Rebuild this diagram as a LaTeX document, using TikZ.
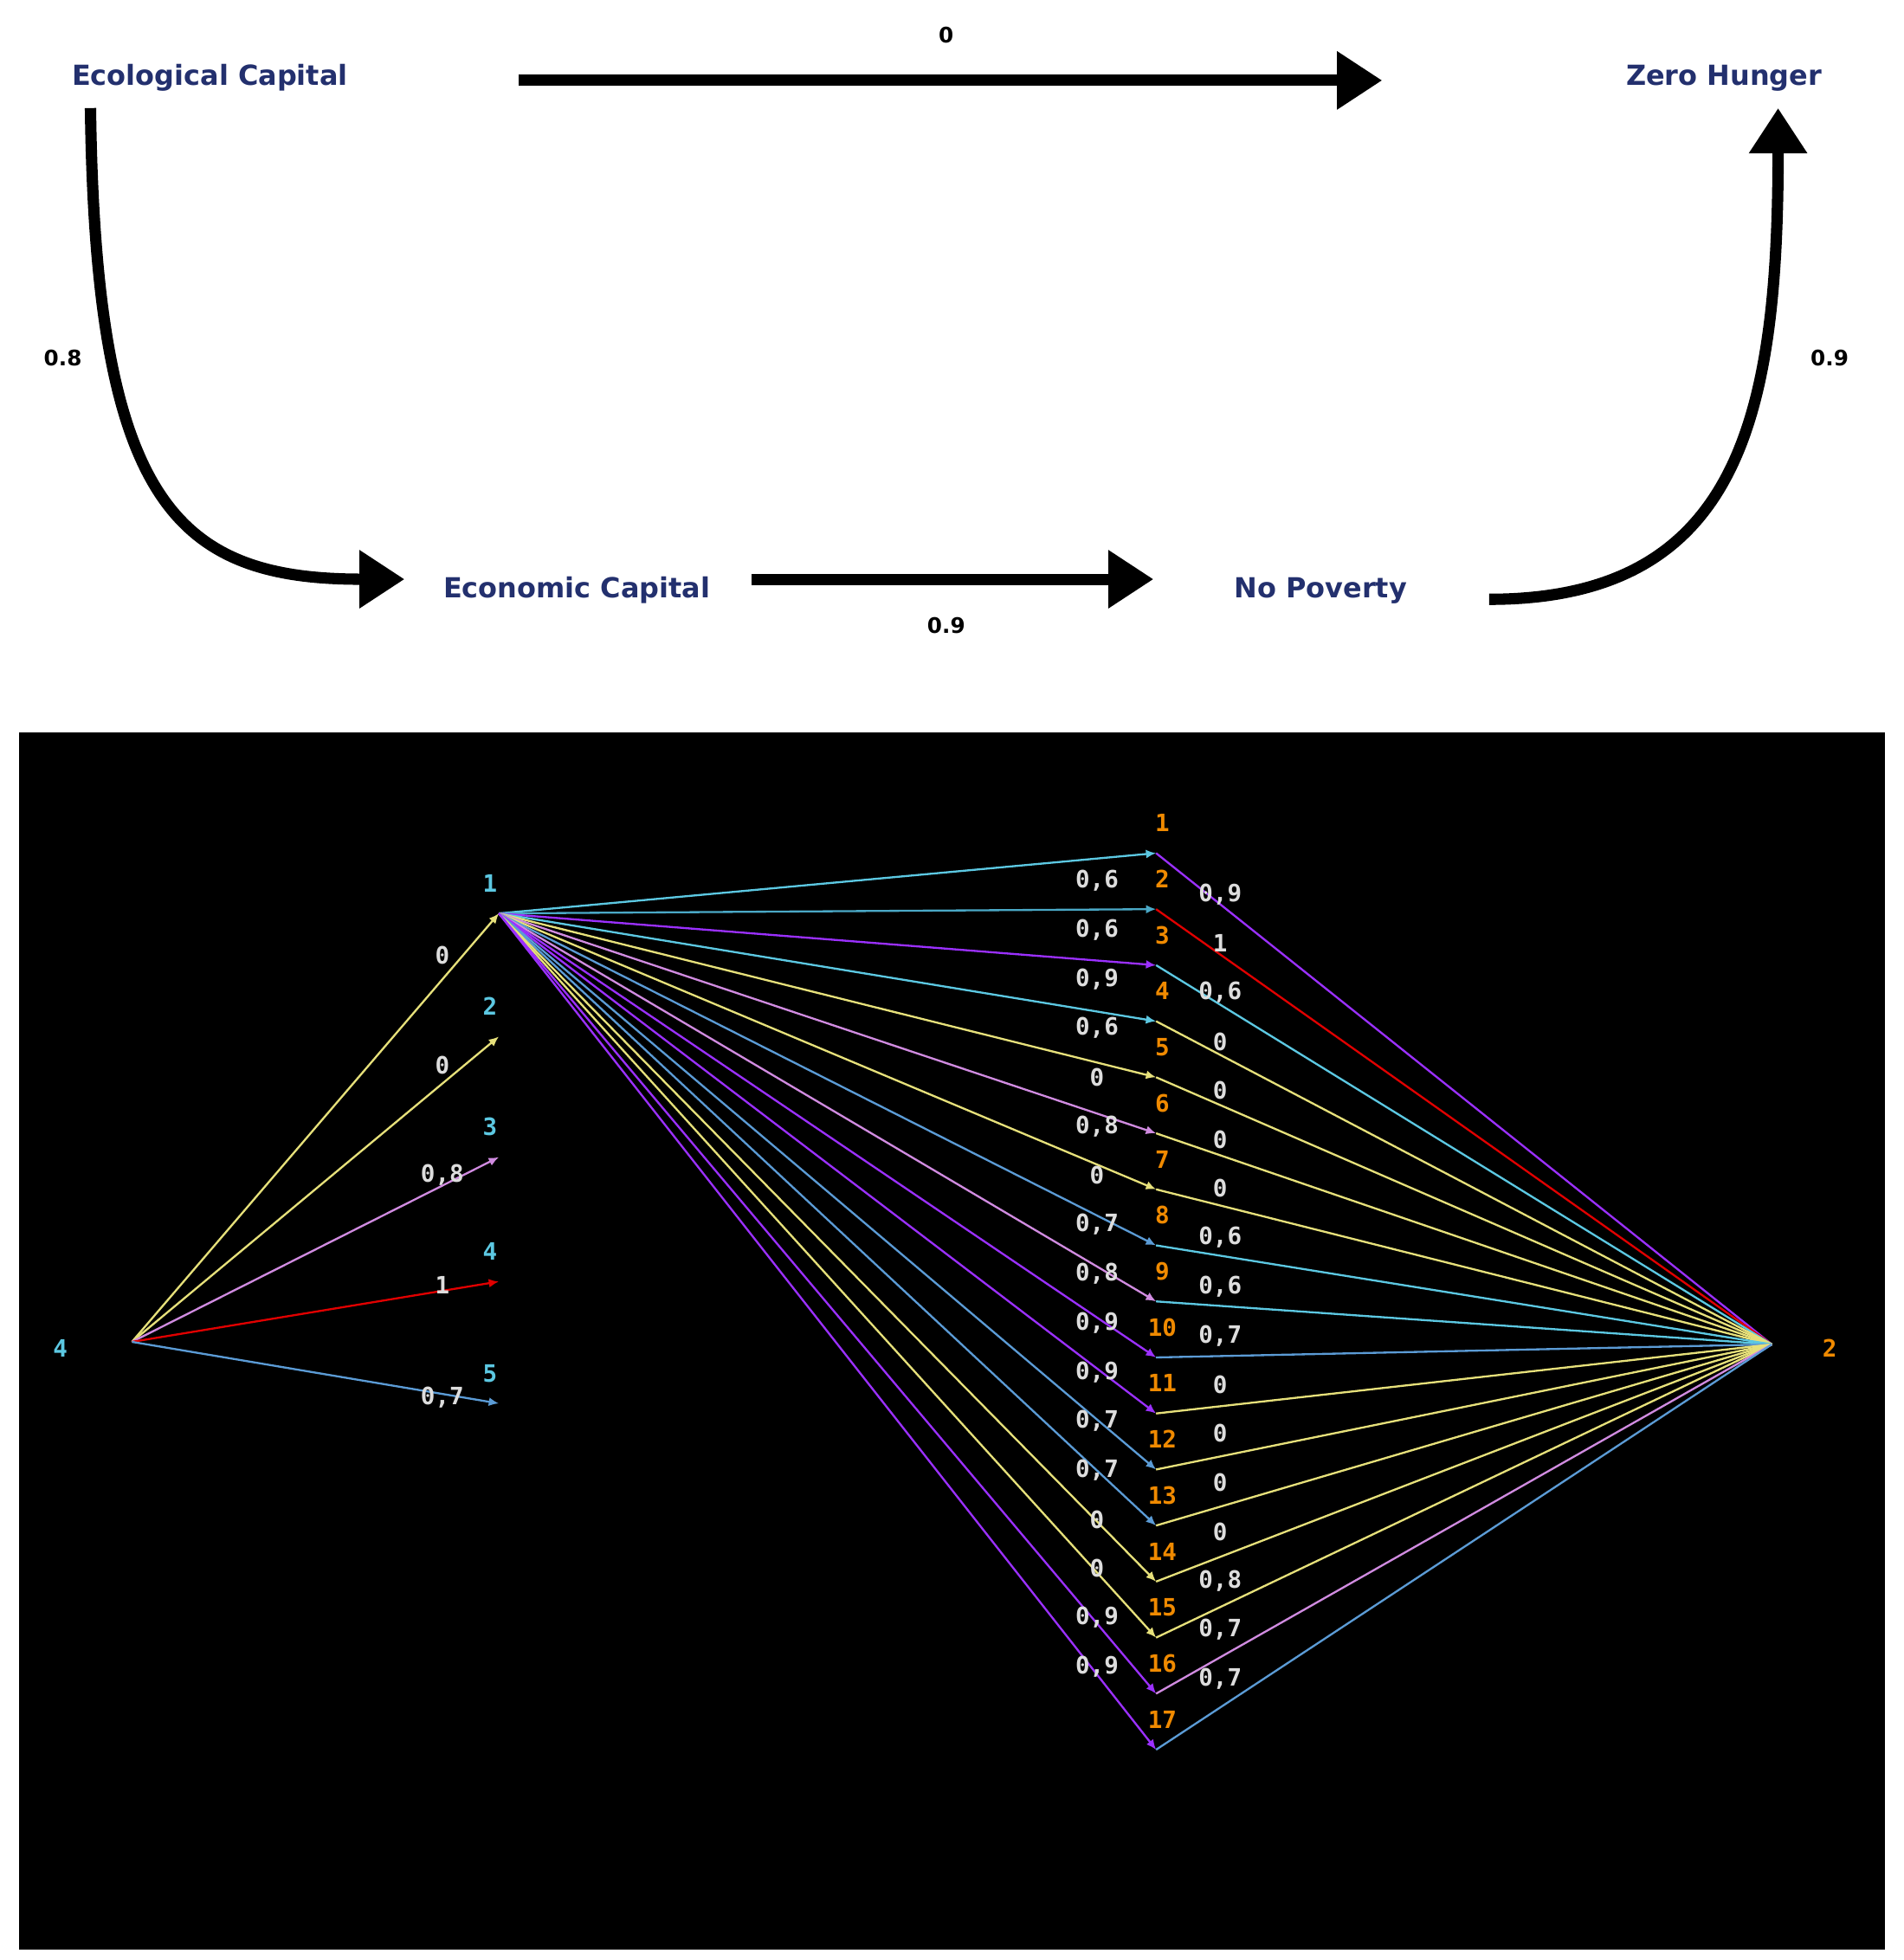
\documentclass[tikz,border=0pt]{standalone}
\usepackage{fontspec}
\setmainfont{DejaVu Sans}
\newfontfamily\monof{DejaVu Sans Mono}
\usetikzlibrary{arrows.meta}
\definecolor{navy}{HTML}{23306E}
\definecolor{cy}{HTML}{5CC8E2}
\definecolor{te}{HTML}{4AA8C6}
\definecolor{pu}{HTML}{9B30FF}
\definecolor{ye}{HTML}{E6E07A}
\definecolor{or}{HTML}{D08BE0}
\definecolor{sb}{HTML}{5B9BD5}
\definecolor{rd}{HTML}{E00000}
\definecolor{og}{HTML}{F08A00}
\definecolor{wl}{HTML}{DDDDDD}
\tikzset{
 captext/.style={text=navy,font=\bfseries\fontsize{22}{24}\selectfont},
 wlab/.style={font=\bfseries\fontsize{17}{19}\selectfont},
 big/.style={line width=9pt,-{Triangle[length=36pt,width=44pt]}},
 small/.style={line width=1.6pt,-{Latex[length=8pt,width=7pt]}},
 dlab/.style={text=wl,font=\monof\bfseries\fontsize{19}{21}\selectfont},
 olab/.style={text=og,font=\monof\bfseries\fontsize{19}{21}\selectfont},
 clab/.style={text=cy,font=\monof\bfseries\fontsize{19}{21}\selectfont},
}
\begin{document}
\begin{tikzpicture}[x=1pt,y=-1pt]
\useasboundingbox (0,0) rectangle (1515,1560);
\fill[white] (0,0) rectangle (1515,1560);
% top
\node[captext] (eco) at (167,62) {Ecological Capital};
\node[captext] (zh) at (1372,62) {Zero Hunger};
\node[captext] (ec) at (459,470) {Economic Capital};
\node[captext] (np) at (1051,470) {No Poverty};
\coordinate (a1) at (413,64); \coordinate (a2) at (1100,64);
\draw[big] (a1) -- (a2);
\node[wlab] (l0) at (753,28) {0};
\coordinate (b1) at (72,86); \coordinate (b2) at (322,461);
\draw[big] (b1) .. controls (76,400) and (140,461) .. (b2);
\node[wlab] (l08) at (50,285) {0.8};
\coordinate (c1) at (598,461); \coordinate (c2) at (918,461);
\draw[big] (c1) -- (c2);
\node[wlab] (l09a) at (753,498) {0.9};
\coordinate (d1) at (1185,477); \coordinate (d2) at (1415,86);
\draw[big] (d1) .. controls (1385,477) and (1415,330) .. (d2);
\node[wlab] (l09b) at (1456,285) {0.9};
% bottom
\fill[black] (15,583) rectangle (1500,1552);
\coordinate (L) at (105,1068);
\node[clab] (L4) at (48,1073) {4};
\coordinate (R) at (1410,1070);
\node[olab] (R2) at (1456,1073) {2};
\foreach \k/\yy/\c/\lb/\ly in {1/727/ye/0/760,2/825/ye/0/848,3/921/or/{0,8}/935,4/1020/rd/1/1023,5/1117/sb/{0,7}/1112}{
 \coordinate (s\k) at (397,\yy);
 \draw[small,\c] (L) -- (s\k);
 \node[clab] (sl\k) at (390,\yy-24) {\k};
 \node[dlab] (sw\k) at (352,\ly) {\lb};
}
\foreach \k/\ci/\co/\li/\lo in {1/cy/pu/{0,6}/{0,9},2/te/rd/{0,6}/1,3/pu/cy/{0,9}/{0,6},4/cy/ye/{0,6}/0,5/ye/ye/0/0,6/or/ye/{0,8}/0,7/ye/ye/0/0,8/sb/cy/{0,7}/{0,6},9/or/cy/{0,8}/{0,6},10/pu/sb/{0,9}/{0,7},11/pu/ye/{0,9}/0,12/sb/ye/{0,7}/0,13/sb/ye/{0,7}/0,14/ye/ye/0/0,15/ye/ye/0/{0,8},16/pu/or/{0,9}/{0,7},17/pu/sb/{0,9}/{0,7}}{
 \pgfmathsetmacro\yy{679+44.6*(\k-1)}
 \pgfmathsetmacro\ya{701+39.1*(\k-1)}
 \pgfmathsetmacro\yb{712+39.0*(\k-1)}
 \coordinate (m\k) at (920,\yy);
 \draw[small,\co,-] (m\k) -- (R);
 \draw[small,\ci] (s1) -- (m\k);
 \node[olab] (ml\k) at (925,\yy-24) {\k};
 \node[dlab] (ma\k) at (873,\ya) {\li};
 \node[dlab] (mb\k) at (971,\yb) {\lo};
}
\end{tikzpicture}
\end{document}
